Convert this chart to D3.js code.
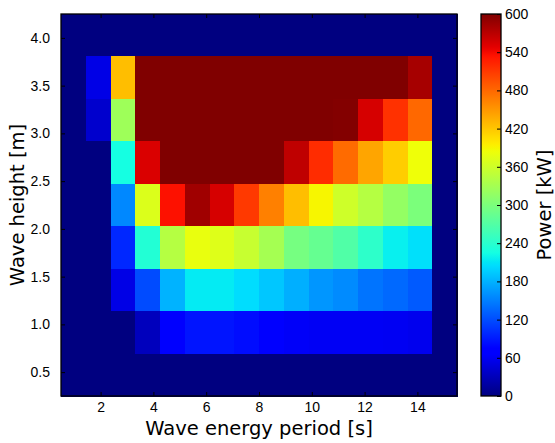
<!DOCTYPE html>
<html>
<head>
<meta charset="utf-8">
<script src="https://cdn.jsdelivr.net/npm/d3@7"></script>
<style>
  body { margin: 0; background: #fff; }
  svg { display: block; font-family: "DejaVu Sans", sans-serif; }
  .tick text { font-size: 14px; fill: #000; }
  .tick line { stroke: #000; }
</style>
</head>
<body>
<script>
// Power matrix [kW], rows from top (high waves) to bottom, 16 columns each
const row0 = [0, 0, 0, 0, 0, 0, 0, 0, 0, 0, 0, 0, 0, 0, 0, 0];
const row1 = [0, 53, 425, 600, 600, 600, 600, 600, 600, 600, 600, 600, 600, 600, 580, 0];
const row2 = [0, 40, 325, 600, 600, 600, 600, 600, 600, 600, 600, 598, 555, 515, 480, 0];
const row3 = [0, 0, 225, 553, 600, 600, 600, 600, 600, 567, 518, 478, 441, 416, 384, 0];
const row4 = [0, 0, 155, 370, 535, 583, 555, 510, 465, 425, 390, 360, 342, 318, 300, 0];
const row5 = [0, 0, 98, 235, 342, 380, 372, 355, 330, 296, 284, 268, 243, 216, 207, 0];
const row6 = [0, 0, 53, 119, 180, 213, 213, 205, 192, 178, 163, 157, 143, 137, 128, 0];
const row7 = [0, 0, 0, 32, 72, 87, 87, 82, 72, 63, 61, 61, 61, 60, 57, 0];
const row8 = [0, 0, 0, 0, 0, 0, 0, 0, 0, 0, 0, 0, 0, 0, 0, 0];
const powerRows = [row0, row1, row2, row3, row4, row5, row6, row7, row8];

const periodExtent = [0.5, 15.5];
const heightExtent = [0.25, 4.25];
const periodTicks = [2, 4, 6, 8, 10, 12, 14];
const heightTicks = [0.5, 1.0, 1.5, 2.0, 2.5, 3.0, 3.5, 4.0];
const powerTicks = [0, 60, 120, 180, 240, 300, 360, 420, 480, 540, 600];
const powerMax = 600;

const width = 555, height = 443;
const plot = { left: 61, right: 457, top: 14, bottom: 396 };
const bar = { left: 481, right: 501 };

// matplotlib "jet"
const jetR = d3.scaleLinear().domain([0, 0.35, 0.66, 0.89, 1]).range([0, 0, 1, 1, 0.5]).clamp(true);
const jetG = d3.scaleLinear().domain([0, 0.125, 0.375, 0.64, 0.91, 1]).range([0, 0, 1, 1, 0, 0]).clamp(true);
const jetB = d3.scaleLinear().domain([0, 0.11, 0.34, 0.65, 1]).range([0.5, 1, 1, 0, 0]).clamp(true);
const jet = t => d3.rgb(255 * jetR(t), 255 * jetG(t), 255 * jetB(t)).formatHex();
const norm = d3.scaleLinear().domain([0, powerMax]).range([0, 1]).clamp(true);
const color = v => jet(norm(v));

const svg = d3.select('body').append('svg')
  .attr('width', width)
  .attr('height', height);

const x = d3.scaleLinear().domain(periodExtent).range([plot.left, plot.right]);
const y = d3.scaleLinear().domain(heightExtent).range([plot.bottom, plot.top]);

const nCols = powerRows[0].length;
const nRows = powerRows.length;
const colW = (periodExtent[1] - periodExtent[0]) / nCols;
const rowH = (heightExtent[1] - heightExtent[0]) / nRows;

// cells
const cells = [];
powerRows.forEach((r, i) => r.forEach((v, j) => cells.push({ i, j, v })));

svg.append('g')
  .selectAll('rect')
  .data(cells)
  .join('rect')
  .attr('x', d => x(periodExtent[0] + d.j * colW))
  .attr('width', d => x(periodExtent[0] + (d.j + 1) * colW) - x(periodExtent[0] + d.j * colW) + 0.5)
  .attr('y', d => y(heightExtent[1] - d.i * rowH))
  .attr('height', d => y(heightExtent[1] - (d.i + 1) * rowH) - y(heightExtent[1] - d.i * rowH) + 0.5)
  .attr('fill', d => color(d.v))
  .attr('shape-rendering', 'crispEdges');

// axes (ticks point inward)
svg.append('g')
  .attr('transform', `translate(0,${plot.bottom})`)
  .call(d3.axisBottom(x).tickValues(periodTicks).tickSizeInner(-4).tickSizeOuter(0).tickPadding(6))
  .call(g => g.select('.domain').remove());

svg.append('g')
  .attr('transform', `translate(0,${plot.top})`)
  .call(d3.axisTop(x).tickValues(periodTicks).tickSizeInner(-4).tickSizeOuter(0).tickFormat(''))
  .call(g => g.select('.domain').remove());

svg.append('g')
  .attr('transform', `translate(${plot.left},0)`)
  .call(d3.axisLeft(y).tickValues(heightTicks).tickFormat(d3.format('.1f')).tickSizeInner(-4).tickSizeOuter(0).tickPadding(11))
  .call(g => g.select('.domain').remove());

svg.append('g')
  .attr('transform', `translate(${plot.right},0)`)
  .call(d3.axisRight(y).tickValues(heightTicks).tickSizeInner(-4).tickSizeOuter(0).tickFormat(''))
  .call(g => g.select('.domain').remove());

svg.append('rect')
  .attr('x', plot.left)
  .attr('y', plot.top)
  .attr('width', plot.right - plot.left)
  .attr('height', plot.bottom - plot.top)
  .attr('fill', 'none')
  .attr('stroke', '#000')
  .attr('stroke-width', 1.3);

// axis labels
svg.append('text')
  .attr('x', (plot.left + plot.right) / 2)
  .attr('y', 435)
  .attr('text-anchor', 'middle')
  .style('font-size', '19.5px')
  .text('Wave energy period [s]');

svg.append('text')
  .attr('transform', `translate(24,${(plot.top + plot.bottom) / 2}) rotate(-90)`)
  .attr('text-anchor', 'middle')
  .style('font-size', '19.5px')
  .text('Wave height [m]');

// colorbar
const c = d3.scaleLinear().domain([0, powerMax]).range([plot.bottom, plot.top]);
const grad = svg.append('defs').append('linearGradient')
  .attr('id', 'jet')
  .attr('x1', 0).attr('y1', 1).attr('x2', 0).attr('y2', 0);
grad.selectAll('stop')
  .data(d3.range(0, 1.0001, 1 / 128))
  .join('stop')
  .attr('offset', d => d)
  .attr('stop-color', d => jet(d));

svg.append('rect')
  .attr('x', bar.left)
  .attr('y', plot.top)
  .attr('width', bar.right - bar.left)
  .attr('height', plot.bottom - plot.top)
  .attr('fill', 'url(#jet)');

svg.append('g')
  .attr('transform', `translate(${bar.right},0)`)
  .call(d3.axisRight(c).tickValues(powerTicks).tickSizeInner(-4).tickSizeOuter(0).tickPadding(4))
  .call(g => g.select('.domain').remove());

svg.append('rect')
  .attr('x', bar.left)
  .attr('y', plot.top)
  .attr('width', bar.right - bar.left)
  .attr('height', plot.bottom - plot.top)
  .attr('fill', 'none')
  .attr('stroke', '#000')
  .attr('stroke-width', 1.3);

svg.append('text')
  .attr('transform', `translate(551,${(plot.top + plot.bottom) / 2}) rotate(-90)`)
  .attr('text-anchor', 'middle')
  .style('font-size', '19.5px')
  .text('Power [kW]');
</script>
</body>
</html>
